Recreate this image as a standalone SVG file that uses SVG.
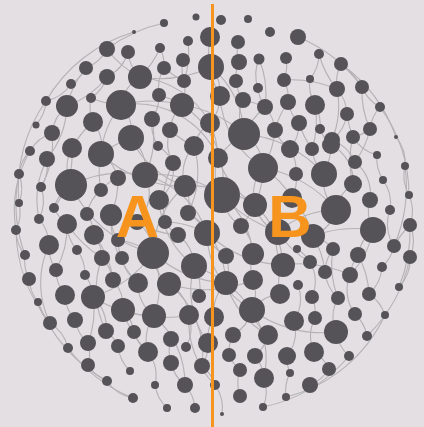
<svg xmlns="http://www.w3.org/2000/svg" width="424" height="427" viewBox="0 0 424 427">
<style>
.e path{fill:none;stroke:#b4b2b5;stroke-width:1.1}
.n circle{fill:#555357}
.lbl{font-family:"Liberation Sans",Arial,sans-serif;font-weight:bold;font-size:60px;fill:#f7941d;text-anchor:middle}
</style>
<rect width="424" height="427" fill="#e3dfe2"/>
<g id="connectors" class="e">
<path d="M134 32 A150 150 0 0 0 46 101"/>
<path d="M46 101 A150 150 0 0 0 19 203"/>
<path d="M19 174 A150 150 0 0 0 25 255"/>
<path d="M16 230 A150 150 0 0 0 50 323"/>
<path d="M38 302 A150 150 0 0 0 107 381"/>
<path d="M68 348 A150 150 0 0 0 133 398"/>
<path d="M263 407 A150 150 0 0 0 349 356"/>
<path d="M286 397 A150 150 0 0 0 385 315"/>
<path d="M399 287 A150 150 0 0 0 410 225"/>
<path d="M409 195 A150 150 0 0 0 380 107"/>
<path d="M396 137 A150 150 0 0 0 341 64"/>
<path d="M362 87 A150 150 0 0 0 298 37"/>
<path d="M164 23 A150 150 0 0 0 107 49"/>
<path d="M405 166 A150 150 0 0 1 394 246"/>
<path d="M410 257 A150 150 0 0 1 367 336"/>
<path d="M30 151 A120 120 0 0 0 16 230"/>
<path d="M107 49 A40 40 0 0 1 86 68"/>
<path d="M128 52 A40 40 0 0 0 140 77"/>
<path d="M160 48 A40 40 0 0 1 164 68"/>
<path d="M183 60 A40 40 0 0 0 184 81"/>
<path d="M211 67 A40 40 0 0 1 220 96"/>
<path d="M239 62 A40 40 0 0 0 236 81"/>
<path d="M286 58 A40 40 0 0 1 284 80"/>
<path d="M259 59 A40 40 0 0 0 258 88"/>
<path d="M319 54 A40 40 0 0 1 310 79"/>
<path d="M341 64 A40 40 0 0 0 337 89"/>
<path d="M86 68 A40 40 0 0 1 71 84"/>
<path d="M164 68 A40 40 0 0 0 159 95"/>
<path d="M107 77 A40 40 0 0 1 91 98"/>
<path d="M140 77 A40 40 0 0 0 121 105"/>
<path d="M184 81 A40 40 0 0 1 182 105"/>
<path d="M236 81 A40 40 0 0 0 243 100"/>
<path d="M284 80 A40 40 0 0 1 288 102"/>
<path d="M310 79 A40 40 0 0 0 315 105"/>
<path d="M71 84 A40 40 0 0 1 46 101"/>
<path d="M258 88 A40 40 0 0 0 265 107"/>
<path d="M337 89 A40 40 0 0 1 347 114"/>
<path d="M362 87 A40 40 0 0 0 380 107"/>
<path d="M220 96 A40 40 0 0 1 210 123"/>
<path d="M243 100 A40 40 0 0 0 244 134"/>
<path d="M159 95 A40 40 0 0 1 152 119"/>
<path d="M91 98 A40 40 0 0 0 93 122"/>
<path d="M46 101 A40 40 0 0 1 36 125"/>
<path d="M67 106 A40 40 0 0 0 52 133"/>
<path d="M121 105 A40 40 0 0 1 131 138"/>
<path d="M182 105 A40 40 0 0 0 170 130"/>
<path d="M265 107 A40 40 0 0 1 275 130"/>
<path d="M288 102 A40 40 0 0 0 299 123"/>
<path d="M315 105 A40 40 0 0 1 320 129"/>
<path d="M380 107 A40 40 0 0 0 370 129"/>
<path d="M347 114 A40 40 0 0 1 332 140"/>
<path d="M152 119 A40 40 0 0 0 158 146"/>
<path d="M93 122 A40 40 0 0 1 101 154"/>
<path d="M210 123 A40 40 0 0 0 194 146"/>
<path d="M299 123 A40 40 0 0 1 290 149"/>
<path d="M320 129 A40 40 0 0 0 331 145"/>
<path d="M370 129 A40 40 0 0 1 353 137"/>
<path d="M52 133 A40 40 0 0 0 30 151"/>
<path d="M131 138 A40 40 0 0 1 145 175"/>
<path d="M170 130 A40 40 0 0 0 173 163"/>
<path d="M244 134 A40 40 0 0 1 263 168"/>
<path d="M275 130 A40 40 0 0 0 290 149"/>
<path d="M332 140 A40 40 0 0 1 355 162"/>
<path d="M353 137 A40 40 0 0 0 377 155"/>
<path d="M396 137 A40 40 0 0 1 405 166"/>
<path d="M72 148 A40 40 0 0 0 71 185"/>
<path d="M101 154 A40 40 0 0 1 118 178"/>
<path d="M30 151 A40 40 0 0 0 19 174"/>
<path d="M47 159 A40 40 0 0 1 41 187"/>
<path d="M194 146 A40 40 0 0 0 185 186"/>
<path d="M158 146 A40 40 0 0 1 173 163"/>
<path d="M218 158 A40 40 0 0 0 222 195"/>
<path d="M290 149 A40 40 0 0 1 296 174"/>
<path d="M312 149 A40 40 0 0 0 324 174"/>
<path d="M331 145 A40 40 0 0 1 353 184"/>
<path d="M377 155 A40 40 0 0 0 383 180"/>
<path d="M355 162 A40 40 0 0 1 370 200"/>
<path d="M405 166 A40 40 0 0 0 409 195"/>
<path d="M173 163 A40 40 0 0 1 159 200"/>
<path d="M263 168 A40 40 0 0 0 255 205"/>
<path d="M19 174 A40 40 0 0 1 19 203"/>
<path d="M71 185 A40 40 0 0 0 54 208"/>
<path d="M41 187 A40 40 0 0 1 39 219"/>
<path d="M118 178 A40 40 0 0 0 101 190"/>
<path d="M145 175 A40 40 0 0 1 137 222"/>
<path d="M101 190 A40 40 0 0 0 87 214"/>
<path d="M296 174 A40 40 0 0 1 292 198"/>
<path d="M324 174 A40 40 0 0 0 336 210"/>
<path d="M383 180 A40 40 0 0 1 390 210"/>
<path d="M353 184 A40 40 0 0 0 336 210"/>
<path d="M185 186 A40 40 0 0 1 188 213"/>
<path d="M222 195 A40 40 0 0 0 241 226"/>
<path d="M19 203 A40 40 0 0 1 16 230"/>
<path d="M54 208 A40 40 0 0 0 67 224"/>
<path d="M87 214 A40 40 0 0 1 94 235"/>
<path d="M111 215 A40 40 0 0 0 118 240"/>
<path d="M159 200 A40 40 0 0 1 165 222"/>
<path d="M370 200 A40 40 0 0 0 373 230"/>
<path d="M409 195 A40 40 0 0 1 410 225"/>
<path d="M255 205 A40 40 0 0 0 278 232"/>
<path d="M336 210 A40 40 0 0 1 313 236"/>
<path d="M390 210 A40 40 0 0 0 394 246"/>
<path d="M39 219 A40 40 0 0 1 49 245"/>
<path d="M67 224 A40 40 0 0 0 77 250"/>
<path d="M188 213 A40 40 0 0 1 207 233"/>
<path d="M165 222 A40 40 0 0 0 178 235"/>
<path d="M137 222 A40 40 0 0 1 153 253"/>
<path d="M16 230 A40 40 0 0 0 25 255"/>
<path d="M94 235 A40 40 0 0 1 102 258"/>
<path d="M118 240 A40 40 0 0 0 122 258"/>
<path d="M178 235 A40 40 0 0 1 194 266"/>
<path d="M207 233 A40 40 0 0 0 226 256"/>
<path d="M241 226 A40 40 0 0 1 253 254"/>
<path d="M278 232 A40 40 0 0 0 283 265"/>
<path d="M313 236 A40 40 0 0 1 333 249"/>
<path d="M373 230 A40 40 0 0 0 358 255"/>
<path d="M410 225 A40 40 0 0 1 410 257"/>
<path d="M49 245 A40 40 0 0 0 56 270"/>
<path d="M77 250 A40 40 0 0 1 85 275"/>
<path d="M153 253 A40 40 0 0 0 169 284"/>
<path d="M226 256 A40 40 0 0 1 226 283"/>
<path d="M253 254 A40 40 0 0 0 253 280"/>
<path d="M297 249 A40 40 0 0 1 310 262"/>
<path d="M333 249 A40 40 0 0 0 325 272"/>
<path d="M394 246 A40 40 0 0 1 382 267"/>
<path d="M25 255 A40 40 0 0 0 29 279"/>
<path d="M102 258 A40 40 0 0 1 113 280"/>
<path d="M122 258 A40 40 0 0 0 138 283"/>
<path d="M194 266 A40 40 0 0 1 199 296"/>
<path d="M358 255 A40 40 0 0 0 350 275"/>
<path d="M410 257 A40 40 0 0 1 399 287"/>
<path d="M283 265 A40 40 0 0 0 280 294"/>
<path d="M310 262 A40 40 0 0 1 312 297"/>
<path d="M325 272 A40 40 0 0 0 338 298"/>
<path d="M382 267 A40 40 0 0 1 369 294"/>
<path d="M56 270 A40 40 0 0 0 65 295"/>
<path d="M85 275 A40 40 0 0 1 93 297"/>
<path d="M29 279 A40 40 0 0 0 38 302"/>
<path d="M113 280 A40 40 0 0 1 123 310"/>
<path d="M138 283 A40 40 0 0 0 154 316"/>
<path d="M169 284 A40 40 0 0 1 189 315"/>
<path d="M226 283 A40 40 0 0 0 214 317"/>
<path d="M253 280 A40 40 0 0 1 252 310"/>
<path d="M350 275 A40 40 0 0 0 355 314"/>
<path d="M298 285 A40 40 0 0 1 294 321"/>
<path d="M280 294 A40 40 0 0 0 252 310"/>
<path d="M312 297 A40 40 0 0 1 315 318"/>
<path d="M338 298 A40 40 0 0 0 336 332"/>
<path d="M369 294 A40 40 0 0 1 385 315"/>
<path d="M65 295 A40 40 0 0 0 75 320"/>
<path d="M93 297 A40 40 0 0 1 106 331"/>
<path d="M38 302 A40 40 0 0 0 50 323"/>
<path d="M123 310 A40 40 0 0 1 134 332"/>
<path d="M154 316 A40 40 0 0 0 148 352"/>
<path d="M189 315 A40 40 0 0 1 186 347"/>
<path d="M214 317 A40 40 0 0 0 208 343"/>
<path d="M252 310 A40 40 0 0 1 233 335"/>
<path d="M252 310 A40 40 0 0 0 268 335"/>
<path d="M50 323 A40 40 0 0 1 68 348"/>
<path d="M75 320 A40 40 0 0 0 88 343"/>
<path d="M106 331 A40 40 0 0 1 118 346"/>
<path d="M134 332 A40 40 0 0 0 148 352"/>
<path d="M294 321 A40 40 0 0 1 287 356"/>
<path d="M315 318 A40 40 0 0 0 314 352"/>
<path d="M355 314 A40 40 0 0 1 367 336"/>
<path d="M171 339 A40 40 0 0 0 171 363"/>
<path d="M208 343 A40 40 0 0 1 202 366"/>
<path d="M233 335 A40 40 0 0 0 229 355"/>
<path d="M268 335 A40 40 0 0 1 255 356"/>
<path d="M336 332 A40 40 0 0 0 349 356"/>
<path d="M88 343 A40 40 0 0 1 88 365"/>
<path d="M118 346 A40 40 0 0 0 130 371"/>
<path d="M148 352 A40 40 0 0 1 155 385"/>
<path d="M171 363 A40 40 0 0 0 185 385"/>
<path d="M202 366 A40 40 0 0 1 215 385"/>
<path d="M229 355 A40 40 0 0 0 240 370"/>
<path d="M255 356 A40 40 0 0 1 264 378"/>
<path d="M287 356 A40 40 0 0 0 290 373"/>
<path d="M314 352 A40 40 0 0 1 329 369"/>
<path d="M88 365 A40 40 0 0 0 107 381"/>
<path d="M329 369 A40 40 0 0 1 310 385"/>
<path d="M240 370 A40 40 0 0 0 240 396"/>
<path d="M264 378 A40 40 0 0 1 263 407"/>
<path d="M290 373 A40 40 0 0 0 286 397"/>
<path d="M185 385 A40 40 0 0 1 195 408"/>
<path d="M155 385 A40 40 0 0 0 167 408"/>
<path d="M215 385 A40 40 0 0 1 222 414"/>
<path d="M107 381 A40 40 0 0 0 133 398"/>
<path d="M140 77 A90 90 0 0 1 210 123"/>
<path d="M121 105 A90 90 0 0 1 218 158"/>
<path d="M211 67 A90 90 0 0 1 244 134"/>
<path d="M220 96 A90 90 0 0 0 263 168"/>
<path d="M182 105 A90 90 0 0 1 222 195"/>
<path d="M131 138 A90 90 0 0 0 185 186"/>
<path d="M145 175 A90 90 0 0 1 207 233"/>
<path d="M185 186 A90 90 0 0 0 153 253"/>
<path d="M222 195 A90 90 0 0 1 253 254"/>
<path d="M159 200 A90 90 0 0 0 194 266"/>
<path d="M255 205 A90 90 0 0 1 283 265"/>
<path d="M336 210 A90 90 0 0 0 278 232"/>
<path d="M188 213 A90 90 0 0 1 226 283"/>
<path d="M207 233 A90 90 0 0 0 252 310"/>
<path d="M153 253 A90 90 0 0 1 154 316"/>
<path d="M194 266 A90 90 0 0 0 208 343"/>
<path d="M169 284 A90 90 0 0 1 202 366"/>
<path d="M226 283 A90 90 0 0 0 268 335"/>
<path d="M252 310 A90 90 0 0 1 264 378"/>
<path d="M189 315 A90 90 0 0 0 215 385"/>
<path d="M154 316 A90 90 0 0 1 185 385"/>
<path d="M123 310 A90 90 0 0 0 148 352"/>
<path d="M93 297 A90 90 0 0 1 88 343"/>
<path d="M49 245 A90 90 0 0 0 50 323"/>
<path d="M67 224 A90 90 0 0 1 56 270"/>
<path d="M111 215 A90 90 0 0 0 138 283"/>
<path d="M94 235 A90 90 0 0 1 113 280"/>
<path d="M102 258 A90 90 0 0 0 106 331"/>
<path d="M118 240 A90 90 0 0 1 153 253"/>
<path d="M137 222 A90 90 0 0 0 178 235"/>
<path d="M165 222 A90 90 0 0 1 207 233"/>
<path d="M278 232 A90 90 0 0 0 310 262"/>
<path d="M313 236 A90 90 0 0 1 325 272"/>
<path d="M373 230 A90 90 0 0 1 350 275"/>
<path d="M333 249 A90 90 0 0 0 338 298"/>
<path d="M358 255 A90 90 0 0 1 369 294"/>
<path d="M410 225 A90 90 0 0 0 394 246"/>
<path d="M263 168 A90 90 0 0 1 241 226"/>
<path d="M218 158 A90 90 0 0 0 255 205"/>
<path d="M194 146 A90 90 0 0 1 188 213"/>
<path d="M173 163 A90 90 0 0 0 165 222"/>
<path d="M118 178 A90 90 0 0 1 111 215"/>
<path d="M101 154 A90 90 0 0 0 101 190"/>
<path d="M72 148 A90 90 0 0 1 54 208"/>
<path d="M47 159 A90 90 0 0 0 39 219"/>
<path d="M52 133 A90 90 0 0 1 41 187"/>
<path d="M93 122 A90 90 0 0 0 72 148"/>
<path d="M67 106 A90 90 0 0 1 47 159"/>
<path d="M121 105 A90 90 0 0 0 101 154"/>
<path d="M152 119 A90 90 0 0 1 145 175"/>
<path d="M170 130 A90 90 0 0 0 194 146"/>
<path d="M210 123 A90 90 0 0 1 218 158"/>
<path d="M244 134 A90 90 0 0 0 218 158"/>
<path d="M275 130 A90 90 0 0 1 263 168"/>
<path d="M265 107 A90 90 0 0 0 244 134"/>
<path d="M243 100 A90 90 0 0 1 265 107"/>
<path d="M288 102 A90 90 0 0 0 275 130"/>
<path d="M315 105 A90 90 0 0 1 312 149"/>
<path d="M299 123 A90 90 0 0 0 312 149"/>
<path d="M332 140 A90 90 0 0 1 324 174"/>
<path d="M353 137 A90 90 0 0 0 353 184"/>
<path d="M370 129 A90 90 0 0 1 355 162"/>
<path d="M347 114 A90 90 0 0 0 353 137"/>
<path d="M337 89 A90 90 0 0 1 332 140"/>
<path d="M362 87 A90 90 0 0 0 370 129"/>
<path d="M341 64 A90 90 0 0 1 362 87"/>
<path d="M319 54 A90 90 0 0 0 337 89"/>
<path d="M259 59 A90 90 0 0 1 265 107"/>
<path d="M238 42 A40 40 0 0 0 239 62"/>
<path d="M210 37 A90 90 0 0 0 220 96"/>
<path d="M188 41 A90 90 0 0 1 184 81"/>
<path d="M128 52 A40 40 0 0 1 107 77"/>
<path d="M107 49 A90 90 0 0 0 140 77"/>
<path d="M160 48 A90 90 0 0 1 140 77"/>
<path d="M86 68 A90 90 0 0 0 67 106"/>
<path d="M107 77 A90 90 0 0 1 67 106"/>
<path d="M91 98 A90 90 0 0 0 121 105"/>
<path d="M159 95 A90 90 0 0 1 182 105"/>
<path d="M164 68 A90 90 0 0 0 184 81"/>
<path d="M71 185 A120 120 0 0 0 153 253"/>
<path d="M101 154 A120 120 0 0 0 185 186"/>
<path d="M145 175 A120 120 0 0 1 222 195"/>
<path d="M222 195 A120 120 0 0 0 313 236"/>
<path d="M263 168 A120 120 0 0 1 336 210"/>
<path d="M207 233 A120 120 0 0 0 283 265"/>
<path d="M153 253 A120 120 0 0 0 226 283"/>
<path d="M194 266 A120 120 0 0 1 252 310"/>
<path d="M121 105 A120 120 0 0 1 182 105"/>
<path d="M182 105 A120 120 0 0 1 244 134"/>
<path d="M244 134 A120 120 0 0 1 324 174"/>
<path d="M284 80 A120 120 0 0 1 337 89"/>
<path d="M140 77 A120 120 0 0 0 211 67"/>
<path d="M93 297 A120 120 0 0 0 154 316"/>
<path d="M123 310 A120 120 0 0 0 189 315"/>
<path d="M252 310 A120 120 0 0 0 336 332"/>
<path d="M283 265 A120 120 0 0 1 350 275"/>
<path d="M67 224 A120 120 0 0 0 102 258"/>
<path d="M292 198 A90 90 0 0 1 313 236"/>
<path d="M292 198 A90 90 0 0 0 263 168"/>
<path d="M71 185 A120 120 0 0 1 145 175"/>
<path d="M185 186 A120 120 0 0 1 255 205"/>
<path d="M313 236 A120 120 0 0 1 373 230"/>
<path d="M169 284 A120 120 0 0 0 253 280"/>
<path d="M153 253 A120 120 0 0 1 93 297"/>
<path d="M101 154 A120 120 0 0 1 131 138"/>
</g>
<g class="n">
<g id="n1"><circle cx="134" cy="32" r="2"/></g>
<g id="n2"><circle cx="164" cy="23" r="4"/></g>
<g id="n3"><circle cx="196" cy="17" r="3.5"/></g>
<g id="n4"><circle cx="221" cy="20" r="5"/></g>
<g id="n5"><circle cx="248" cy="19" r="4"/></g>
<g id="n6"><circle cx="270" cy="32" r="5"/></g>
<g id="n7"><circle cx="298" cy="37" r="8"/></g>
<g id="n8"><circle cx="188" cy="41" r="5"/></g>
<g id="n9"><circle cx="210" cy="37" r="10"/></g>
<g id="n10"><circle cx="238" cy="42" r="7"/></g>
<g id="n11"><circle cx="107" cy="49" r="8"/></g>
<g id="n12"><circle cx="128" cy="52" r="7"/></g>
<g id="n13"><circle cx="160" cy="48" r="5"/></g>
<g id="n14"><circle cx="319" cy="54" r="5"/></g>
<g id="n15"><circle cx="259" cy="59" r="5.5"/></g>
<g id="n16"><circle cx="183" cy="60" r="7"/></g>
<g id="n17"><circle cx="211" cy="67" r="13"/></g>
<g id="n18"><circle cx="239" cy="62" r="8"/></g>
<g id="n19"><circle cx="286" cy="58" r="6"/></g>
<g id="n20"><circle cx="86" cy="68" r="7"/></g>
<g id="n21"><circle cx="164" cy="68" r="7"/></g>
<g id="n22"><circle cx="341" cy="64" r="7"/></g>
<g id="n23"><circle cx="107" cy="77" r="8"/></g>
<g id="n24"><circle cx="140" cy="77" r="12"/></g>
<g id="n25"><circle cx="184" cy="81" r="7"/></g>
<g id="n26"><circle cx="236" cy="81" r="7"/></g>
<g id="n27"><circle cx="284" cy="80" r="7"/></g>
<g id="n28"><circle cx="310" cy="79" r="4"/></g>
<g id="n29"><circle cx="71" cy="84" r="5"/></g>
<g id="n30"><circle cx="258" cy="88" r="5"/></g>
<g id="n31"><circle cx="337" cy="89" r="8"/></g>
<g id="n32"><circle cx="362" cy="87" r="7"/></g>
<g id="n33"><circle cx="220" cy="96" r="10"/></g>
<g id="n34"><circle cx="243" cy="100" r="8"/></g>
<g id="n35"><circle cx="159" cy="95" r="7"/></g>
<g id="n36"><circle cx="91" cy="98" r="5"/></g>
<g id="n37"><circle cx="46" cy="101" r="5"/></g>
<g id="n38"><circle cx="67" cy="106" r="11"/></g>
<g id="n39"><circle cx="121" cy="105" r="15"/></g>
<g id="n40"><circle cx="182" cy="105" r="12"/></g>
<g id="n41"><circle cx="265" cy="107" r="8"/></g>
<g id="n42"><circle cx="288" cy="102" r="8"/></g>
<g id="n43"><circle cx="315" cy="105" r="10"/></g>
<g id="n44"><circle cx="380" cy="107" r="5"/></g>
<g id="n45"><circle cx="347" cy="114" r="7"/></g>
<g id="n46"><circle cx="152" cy="119" r="8"/></g>
<g id="n47"><circle cx="93" cy="122" r="10"/></g>
<g id="n48"><circle cx="36" cy="125" r="3.5"/></g>
<g id="n49"><circle cx="210" cy="123" r="10"/></g>
<g id="n50"><circle cx="299" cy="123" r="8"/></g>
<g id="n51"><circle cx="320" cy="129" r="5"/></g>
<g id="n52"><circle cx="370" cy="129" r="7"/></g>
<g id="n53"><circle cx="52" cy="133" r="8"/></g>
<g id="n54"><circle cx="131" cy="138" r="13"/></g>
<g id="n55"><circle cx="170" cy="130" r="8"/></g>
<g id="n56"><circle cx="244" cy="134" r="16"/></g>
<g id="n57"><circle cx="275" cy="130" r="8"/></g>
<g id="n58"><circle cx="332" cy="140" r="8"/></g>
<g id="n59"><circle cx="353" cy="137" r="7"/></g>
<g id="n60"><circle cx="396" cy="137" r="2"/></g>
<g id="n61"><circle cx="72" cy="148" r="10"/></g>
<g id="n62"><circle cx="101" cy="154" r="13"/></g>
<g id="n63"><circle cx="30" cy="151" r="5"/></g>
<g id="n64"><circle cx="47" cy="159" r="8"/></g>
<g id="n65"><circle cx="194" cy="146" r="10"/></g>
<g id="n66"><circle cx="158" cy="146" r="5"/></g>
<g id="n67"><circle cx="218" cy="158" r="10"/></g>
<g id="n68"><circle cx="290" cy="149" r="9"/></g>
<g id="n69"><circle cx="312" cy="149" r="7"/></g>
<g id="n70"><circle cx="331" cy="145" r="9"/></g>
<g id="n71"><circle cx="377" cy="155" r="4"/></g>
<g id="n72"><circle cx="355" cy="162" r="7"/></g>
<g id="n73"><circle cx="405" cy="166" r="4"/></g>
<g id="n74"><circle cx="173" cy="163" r="8"/></g>
<g id="n75"><circle cx="263" cy="168" r="15"/></g>
<g id="n76"><circle cx="19" cy="174" r="5"/></g>
<g id="n77"><circle cx="71" cy="185" r="16"/></g>
<g id="n78"><circle cx="41" cy="187" r="5"/></g>
<g id="n79"><circle cx="118" cy="178" r="8"/></g>
<g id="n80"><circle cx="145" cy="175" r="13"/></g>
<g id="n81"><circle cx="101" cy="190" r="7"/></g>
<g id="n82"><circle cx="296" cy="174" r="7"/></g>
<g id="n83"><circle cx="324" cy="174" r="13"/></g>
<g id="n84"><circle cx="383" cy="180" r="4"/></g>
<g id="n85"><circle cx="353" cy="184" r="9"/></g>
<g id="n86"><circle cx="185" cy="186" r="11"/></g>
<g id="n87"><circle cx="222" cy="195" r="18"/></g>
<g id="n88"><circle cx="19" cy="203" r="4"/></g>
<g id="n89"><circle cx="54" cy="208" r="5"/></g>
<g id="n90"><circle cx="87" cy="214" r="7"/></g>
<g id="n91"><circle cx="111" cy="215" r="11"/></g>
<g id="n92"><circle cx="159" cy="200" r="10"/></g>
<g id="n93"><circle cx="370" cy="200" r="8"/></g>
<g id="n94"><circle cx="409" cy="195" r="4"/></g>
<g id="n95"><circle cx="255" cy="205" r="12"/></g>
<g id="n96"><circle cx="336" cy="210" r="15"/></g>
<g id="n97"><circle cx="390" cy="210" r="5"/></g>
<g id="n98"><circle cx="39" cy="219" r="5"/></g>
<g id="n99"><circle cx="67" cy="224" r="10"/></g>
<g id="n100"><circle cx="188" cy="213" r="8"/></g>
<g id="n101"><circle cx="165" cy="222" r="7"/></g>
<g id="n102"><circle cx="137" cy="222" r="8"/></g>
<g id="n103"><circle cx="16" cy="230" r="5"/></g>
<g id="n104"><circle cx="94" cy="235" r="10"/></g>
<g id="n105"><circle cx="118" cy="240" r="7"/></g>
<g id="n106"><circle cx="178" cy="235" r="8"/></g>
<g id="n107"><circle cx="207" cy="233" r="13"/></g>
<g id="n108"><circle cx="241" cy="226" r="8"/></g>
<g id="n109"><circle cx="278" cy="232" r="13"/></g>
<g id="n110"><circle cx="313" cy="236" r="12"/></g>
<g id="n111"><circle cx="373" cy="230" r="13"/></g>
<g id="n112"><circle cx="410" cy="225" r="7"/></g>
<g id="n113"><circle cx="49" cy="245" r="10"/></g>
<g id="n114"><circle cx="77" cy="250" r="5"/></g>
<g id="n115"><circle cx="153" cy="253" r="16"/></g>
<g id="n116"><circle cx="226" cy="256" r="8"/></g>
<g id="n117"><circle cx="253" cy="254" r="11"/></g>
<g id="n118"><circle cx="297" cy="249" r="4"/></g>
<g id="n119"><circle cx="333" cy="249" r="7"/></g>
<g id="n120"><circle cx="394" cy="246" r="7"/></g>
<g id="n121"><circle cx="25" cy="255" r="5"/></g>
<g id="n122"><circle cx="102" cy="258" r="8"/></g>
<g id="n123"><circle cx="122" cy="258" r="7"/></g>
<g id="n124"><circle cx="194" cy="266" r="13"/></g>
<g id="n125"><circle cx="358" cy="255" r="8"/></g>
<g id="n126"><circle cx="410" cy="257" r="7"/></g>
<g id="n127"><circle cx="283" cy="265" r="12"/></g>
<g id="n128"><circle cx="310" cy="262" r="7"/></g>
<g id="n129"><circle cx="325" cy="272" r="7"/></g>
<g id="n130"><circle cx="382" cy="267" r="5"/></g>
<g id="n131"><circle cx="56" cy="270" r="7"/></g>
<g id="n132"><circle cx="85" cy="275" r="5"/></g>
<g id="n133"><circle cx="29" cy="279" r="7"/></g>
<g id="n134"><circle cx="113" cy="280" r="8"/></g>
<g id="n135"><circle cx="138" cy="283" r="10"/></g>
<g id="n136"><circle cx="169" cy="284" r="12"/></g>
<g id="n137"><circle cx="226" cy="283" r="12"/></g>
<g id="n138"><circle cx="253" cy="280" r="10"/></g>
<g id="n139"><circle cx="350" cy="275" r="8"/></g>
<g id="n140"><circle cx="199" cy="296" r="7"/></g>
<g id="n142"><circle cx="298" cy="285" r="5"/></g>
<g id="n143"><circle cx="280" cy="294" r="10"/></g>
<g id="n144"><circle cx="312" cy="297" r="7"/></g>
<g id="n145"><circle cx="338" cy="298" r="7"/></g>
<g id="n146"><circle cx="369" cy="294" r="7"/></g>
<g id="n147"><circle cx="399" cy="287" r="4"/></g>
<g id="n148"><circle cx="65" cy="295" r="10"/></g>
<g id="n149"><circle cx="93" cy="297" r="12"/></g>
<g id="n150"><circle cx="38" cy="302" r="4"/></g>
<g id="n151"><circle cx="123" cy="310" r="12"/></g>
<g id="n152"><circle cx="154" cy="316" r="12"/></g>
<g id="n153"><circle cx="189" cy="315" r="10"/></g>
<g id="n154"><circle cx="214" cy="317" r="10"/></g>
<g id="n155"><circle cx="252" cy="310" r="13"/></g>
<g id="n156"><circle cx="50" cy="323" r="7"/></g>
<g id="n157"><circle cx="75" cy="320" r="8"/></g>
<g id="n158"><circle cx="106" cy="331" r="8"/></g>
<g id="n159"><circle cx="134" cy="332" r="7"/></g>
<g id="n160"><circle cx="294" cy="321" r="10"/></g>
<g id="n161"><circle cx="315" cy="318" r="7"/></g>
<g id="n162"><circle cx="355" cy="314" r="7"/></g>
<g id="n163"><circle cx="385" cy="315" r="4"/></g>
<g id="n164"><circle cx="171" cy="339" r="8"/></g>
<g id="n165"><circle cx="186" cy="347" r="5"/></g>
<g id="n166"><circle cx="208" cy="343" r="10"/></g>
<g id="n167"><circle cx="233" cy="335" r="8"/></g>
<g id="n168"><circle cx="268" cy="335" r="10"/></g>
<g id="n169"><circle cx="336" cy="332" r="12"/></g>
<g id="n170"><circle cx="367" cy="336" r="5"/></g>
<g id="n171"><circle cx="88" cy="343" r="8"/></g>
<g id="n172"><circle cx="118" cy="346" r="7"/></g>
<g id="n173"><circle cx="68" cy="348" r="5"/></g>
<g id="n174"><circle cx="148" cy="352" r="10"/></g>
<g id="n175"><circle cx="171" cy="363" r="8"/></g>
<g id="n176"><circle cx="202" cy="366" r="8"/></g>
<g id="n177"><circle cx="229" cy="355" r="7"/></g>
<g id="n178"><circle cx="255" cy="356" r="8"/></g>
<g id="n179"><circle cx="287" cy="356" r="9"/></g>
<g id="n180"><circle cx="314" cy="352" r="10"/></g>
<g id="n181"><circle cx="349" cy="356" r="5"/></g>
<g id="n182"><circle cx="88" cy="365" r="7"/></g>
<g id="n183"><circle cx="130" cy="371" r="4"/></g>
<g id="n184"><circle cx="240" cy="370" r="7"/></g>
<g id="n185"><circle cx="264" cy="378" r="10"/></g>
<g id="n186"><circle cx="329" cy="369" r="7"/></g>
<g id="n187"><circle cx="290" cy="373" r="4"/></g>
<g id="n188"><circle cx="107" cy="381" r="5"/></g>
<g id="n189"><circle cx="155" cy="385" r="4"/></g>
<g id="n190"><circle cx="185" cy="385" r="8"/></g>
<g id="n191"><circle cx="215" cy="385" r="5"/></g>
<g id="n192"><circle cx="310" cy="385" r="8"/></g>
<g id="n193"><circle cx="133" cy="398" r="5"/></g>
<g id="n194"><circle cx="240" cy="396" r="7"/></g>
<g id="n195"><circle cx="286" cy="397" r="4"/></g>
<g id="n196"><circle cx="167" cy="408" r="4"/></g>
<g id="n197"><circle cx="195" cy="408" r="5"/></g>
<g id="n198"><circle cx="222" cy="414" r="2"/></g>
<g id="n199"><circle cx="263" cy="407" r="4"/></g>
<g id="n200"><circle cx="292" cy="198" r="10"/></g>
</g>
<g id="divider"><line x1="212.5" y1="4" x2="212.5" y2="427" stroke="#f7941d" stroke-width="3"/></g>
<g id="labels">
<text class="lbl" x="137.5" y="237">A</text>
<text class="lbl" x="290" y="237">B</text>
</g>
</svg>
